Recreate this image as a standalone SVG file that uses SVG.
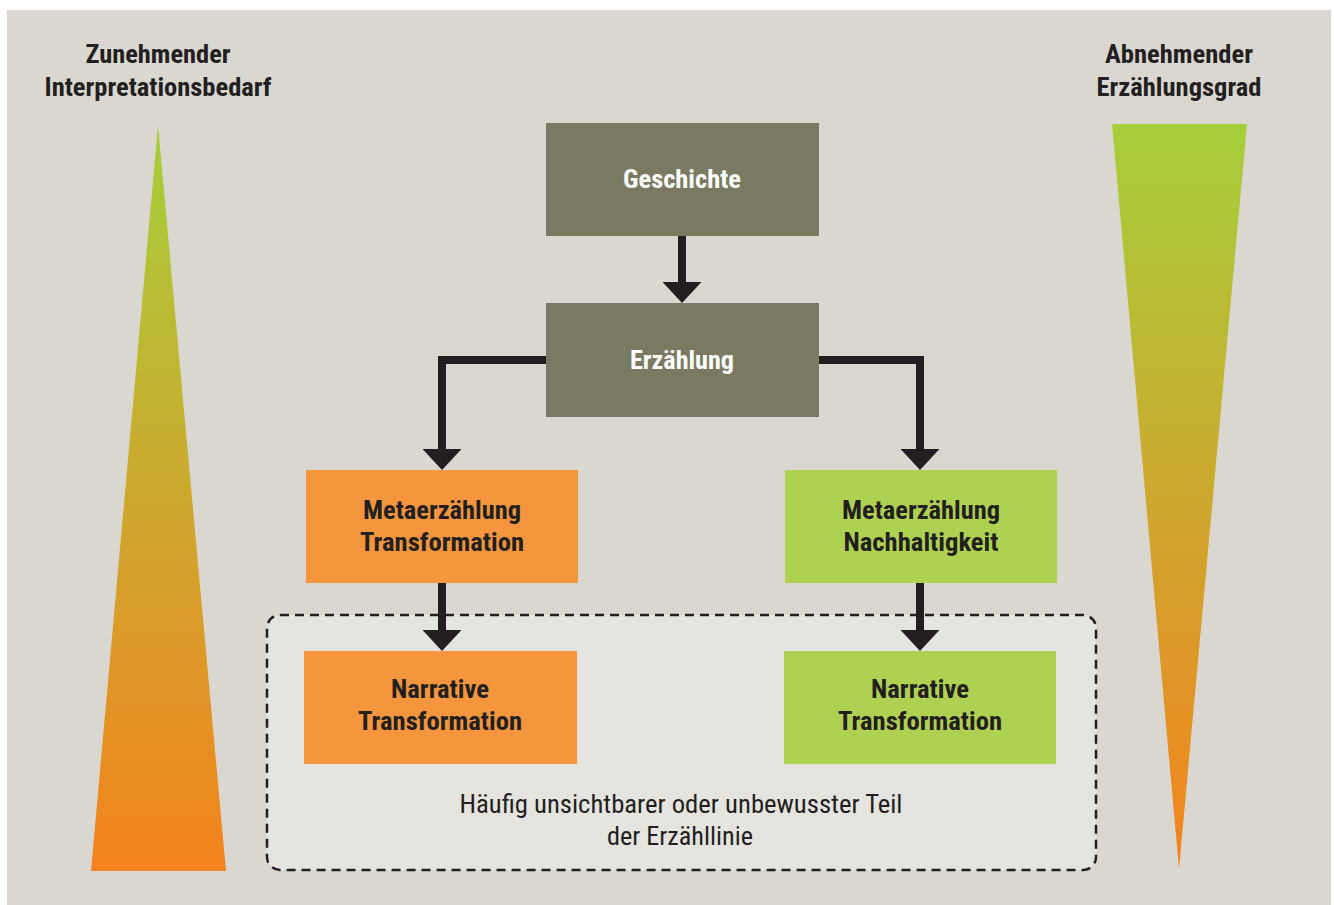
<svg xmlns="http://www.w3.org/2000/svg" width="1334" height="905" viewBox="0 0 1334 905">
  <style>
    .hdr { font-family: "Roboto Condensed", Roboto, "Liberation Sans", sans-serif; font-weight: 700; font-size: 26px; fill: #231f20; text-anchor: middle; }
    .nd { font-family: "Roboto Condensed", Roboto, "Liberation Sans", sans-serif; font-weight: 700; font-size: 26px; text-anchor: middle; }
    .wt { fill: #ffffff; }
    .dk { fill: #231f20; }
    .note { font-family: "Roboto Condensed", Roboto, "Liberation Sans", sans-serif; font-weight: 400; font-size: 25px; fill: #231f20; text-anchor: middle; }
    .olive { fill: #7a7a62; }
    .orange { fill: #f5953d; }
    .green { fill: #afd152; }
    .conn { fill: none; stroke: #231f20; stroke-width: 8; stroke-linejoin: miter; stroke-linecap: butt; }
  </style>
  <defs>
    <linearGradient id="grad" x1="0" y1="0" x2="0" y2="1">
      <stop offset="0" stop-color="#a6cf3a"/>
      <stop offset="1" stop-color="#f4821f"/>
    </linearGradient>
    <marker id="head" viewBox="0 0 21 39" markerWidth="21" markerHeight="39" refX="0" refY="19.5" orient="auto" markerUnits="userSpaceOnUse">
      <path d="M0,0 L21,19.5 L0,39 Z" fill="#231f20"/>
    </marker>
  </defs>

  <rect x="0" y="0" width="1334" height="905" fill="#ffffff"/>
  <rect x="7" y="10" width="1324" height="895" fill="#dad7d0"/>

  <g id="left-scale">
    <polygon points="158,125 226,871 91,871" fill="url(#grad)"/>
    <text class="hdr" x="158" y="63" textLength="145" lengthAdjust="spacingAndGlyphs">Zunehmender</text>
    <text class="hdr" x="158" y="96" textLength="227" lengthAdjust="spacingAndGlyphs">Interpretationsbedarf</text>
  </g>

  <g id="right-scale">
    <polygon points="1112,124 1247,124 1179,869" fill="url(#grad)"/>
    <text class="hdr" x="1179" y="63" textLength="148" lengthAdjust="spacingAndGlyphs">Abnehmender</text>
    <text class="hdr" x="1179" y="96" textLength="165" lengthAdjust="spacingAndGlyphs">Erzählungsgrad</text>
  </g>

  <g id="hidden-zone">
    <rect x="267" y="615" width="829" height="255" rx="13" ry="13" fill="#e5e4df" stroke="#231f20" stroke-width="2.5" stroke-dasharray="9,6"/>
    <text class="note" x="681" y="813" textLength="443" lengthAdjust="spacingAndGlyphs">Häufig unsichtbarer oder unbewusster Teil</text>
    <text class="note" x="680" y="845" textLength="146" lengthAdjust="spacingAndGlyphs">der Erzähllinie</text>
  </g>

  <g id="connectors">
    <path class="conn" d="M682,236 V282" marker-end="url(#head)"/>
    <path class="conn" d="M546,360 H442 V449" marker-end="url(#head)"/>
    <path class="conn" d="M819,360 H920 V449" marker-end="url(#head)"/>
    <path class="conn" d="M442,583 V630" marker-end="url(#head)"/>
    <path class="conn" d="M920,583 V630" marker-end="url(#head)"/>
  </g>

  <g id="geschichte">
    <rect class="olive" x="546" y="123" width="273" height="113"/>
    <text class="nd wt" x="682" y="188" textLength="118" lengthAdjust="spacingAndGlyphs">Geschichte</text>
  </g>

  <g id="erzaehlung">
    <rect class="olive" x="546" y="303" width="273" height="114"/>
    <text class="nd wt" x="682" y="369" textLength="104" lengthAdjust="spacingAndGlyphs">Erzählung</text>
  </g>

  <g id="meta-transformation">
    <rect class="orange" x="306" y="470" width="272" height="113"/>
    <text class="nd dk" x="442" y="519" textLength="158" lengthAdjust="spacingAndGlyphs">Metaerzählung</text>
    <text class="nd dk" x="442" y="551" textLength="164" lengthAdjust="spacingAndGlyphs">Transformation</text>
  </g>

  <g id="meta-nachhaltigkeit">
    <rect class="green" x="785" y="470" width="272" height="113"/>
    <text class="nd dk" x="921" y="519" textLength="158" lengthAdjust="spacingAndGlyphs">Metaerzählung</text>
    <text class="nd dk" x="921" y="551" textLength="155" lengthAdjust="spacingAndGlyphs">Nachhaltigkeit</text>
  </g>

  <g id="narrative-left">
    <rect class="orange" x="304" y="651" width="273" height="113"/>
    <text class="nd dk" x="440" y="698" textLength="98" lengthAdjust="spacingAndGlyphs">Narrative</text>
    <text class="nd dk" x="440" y="730" textLength="164" lengthAdjust="spacingAndGlyphs">Transformation</text>
  </g>

  <g id="narrative-right">
    <rect class="green" x="784" y="651" width="272" height="113"/>
    <text class="nd dk" x="920" y="698" textLength="98" lengthAdjust="spacingAndGlyphs">Narrative</text>
    <text class="nd dk" x="920" y="730" textLength="164" lengthAdjust="spacingAndGlyphs">Transformation</text>
  </g>
</svg>
